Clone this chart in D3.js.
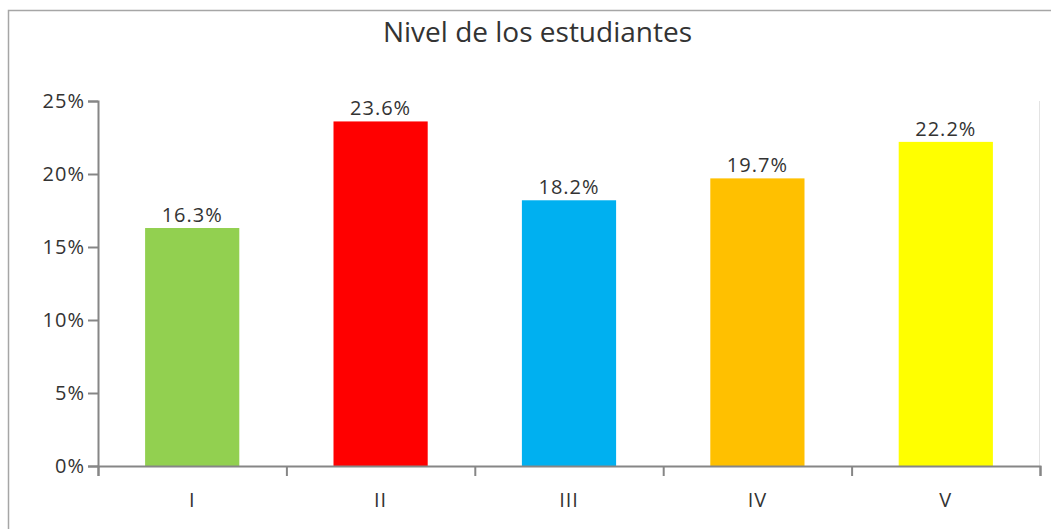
<!DOCTYPE html>
<meta charset="utf-8">
<style>
  body { margin: 0; background: #fff; }
  text { font-family: "Open Sans", sans-serif; fill: #333; }
</style>
<body>
<script src="https://d3js.org/d3.v7.min.js"></script>
<script>

// Data
const levels = ["I", "II", "III", "IV", "V"];
const shares = [16.3, 23.6, 18.2, 19.7, 22.2];
const barColors = ["#92d050", "#ff0000", "#00b0f0", "#ffc000", "#ffff00"];
const yTicks = [0, 5, 10, 15, 20, 25];
const title = "Nivel de los estudiantes";

const W = 1051, H = 529;
const plot = {left: 98, right: 1040, top: 101, bottom: 466};

const svg = d3.select("body").append("svg")
    .attr("width", W)
    .attr("height", H);

// chart frame (only top and left edges are in view)
svg.append("path")
    .attr("d", "M8.5," + H + "V10.5H" + W)
    .attr("fill", "none")
    .attr("stroke", "#a6a6a6")
    .attr("stroke-width", 1.5);

// scales
const x = d3.scaleBand()
    .domain(levels)
    .range([plot.left, plot.right])
    .paddingInner(0.5)
    .paddingOuter(0.25);

const xEdges = d3.scaleLinear()
    .domain([0, levels.length])
    .range([plot.left, plot.right]);

const y = d3.scaleLinear()
    .domain([0, 25])
    .range([plot.bottom, plot.top]);

// faint right edge of the plot area
svg.append("line")
    .attr("x1", plot.right - 0.5).attr("x2", plot.right - 0.5)
    .attr("y1", y(25)).attr("y2", y(0))
    .attr("stroke", "#e3e3e3")
    .attr("stroke-width", 1);

// bars
svg.selectAll(".bar")
    .data(levels)
    .enter().append("rect")
    .attr("class", "bar")
    .attr("x", d => x(d))
    .attr("width", x.bandwidth())
    .attr("y", (d, i) => y(shares[i]))
    .attr("height", (d, i) => y(0) - y(shares[i]))
    .attr("fill", (d, i) => barColors[i]);

// value labels
svg.selectAll(".val")
    .data(levels)
    .enter().append("text")
    .attr("class", "val")
    .attr("x", d => x(d) + x.bandwidth() / 2)
    .attr("y", (d, i) => y(shares[i]) - 6)
    .attr("text-anchor", "middle")
    .style("font-size", "20px")
    .style("letter-spacing", "1px")
    .text((d, i) => shares[i].toFixed(1) + "%");

// y axis
const yAxis = svg.append("g")
    .attr("transform", "translate(" + plot.left + ",0)")
    .call(d3.axisLeft(y)
        .tickValues(yTicks)
        .tickSize(10)
        .tickPadding(3)
        .tickFormat(d => d + "%"));

// x axis: tick marks at category edges
const xAxis = svg.append("g")
    .attr("transform", "translate(0," + plot.bottom + ")")
    .call(d3.axisBottom(xEdges)
        .tickValues(d3.range(levels.length + 1))
        .tickSize(10)
        .tickFormat(""));

// x axis: category labels
const xLabels = svg.append("g")
    .attr("transform", "translate(0," + plot.bottom + ")")
    .call(d3.axisBottom(x).tickSize(0).tickPadding(27));
xLabels.select(".domain").remove();

[yAxis, xAxis].forEach(g => {
    g.select(".domain").attr("stroke", "#868686").attr("stroke-width", 2);
    g.selectAll(".tick line").attr("stroke", "#868686").attr("stroke-width", 2);
});
[yAxis, xLabels].forEach(g => {
    g.selectAll(".tick text")
        .style("font-family", "'Open Sans', sans-serif")
        .style("font-size", "20px")
        .style("letter-spacing", "1px")
        .attr("fill", "#333");
});

// title
svg.append("text")
    .attr("x", 537.5)
    .attr("y", 41.5)
    .attr("text-anchor", "middle")
    .style("font-size", "28px")
    .text(title);

</script>
</body>
